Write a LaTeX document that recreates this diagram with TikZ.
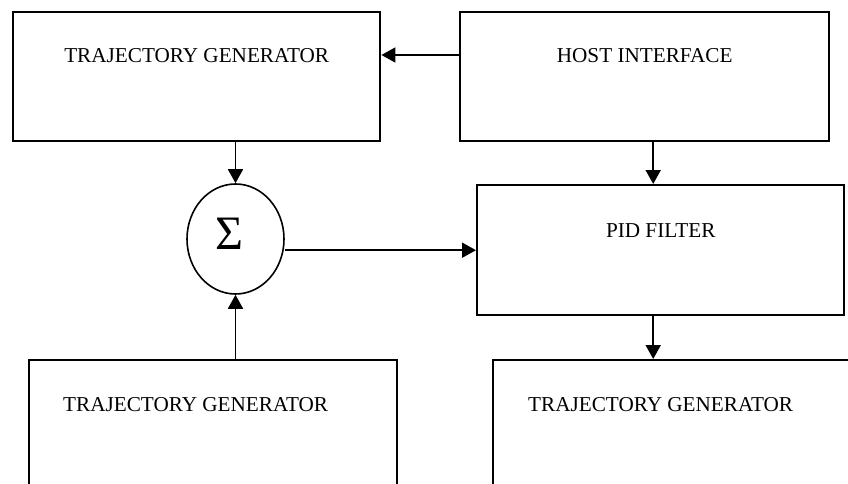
\documentclass[tikz,border=0pt]{standalone}
\usepackage{fontspec}
\setmainfont{Liberation Serif}
\usetikzlibrary{arrows.meta,shapes.geometric}

\tikzset{
  block/.style={draw, line width=2.4pt, inner sep=0pt, anchor=north west},
  blocktext/.style={font=\fontsize{21.2}{25}\selectfont, inner sep=0pt},
  sumnode/.style={draw, ellipse, line width=1.6pt, minimum width=97pt, minimum height=110pt, inner sep=0pt},
  link/.style={line width=1.8pt, -{Triangle[length=14pt,width=15pt]}}
}

\begin{document}
\begin{tikzpicture}[x=1pt,y=-1pt]
    \clip (0,0) rectangle (848,484);
    % blocks
    \node[block, minimum width=367pt, minimum height=129pt] (tg1) at (12,11) {};
    \node[block, minimum width=369pt, minimum height=129pt] (host) at (459,11) {};
    \node[block, minimum width=367pt, minimum height=130pt] (pid) at (476,184) {};
    \node[block, minimum width=368pt, minimum height=150pt] (tg2) at (28,359) {};
    \node[block, minimum width=380pt, minimum height=150pt] (tg3) at (492,359) {};
    \node[sumnode] (sum) at (235.5,239) {};
    % texts
    \node[blocktext, anchor=base] (tg1txt) at ([yshift=-52pt]tg1.north) {TRAJECTORY GENERATOR};
    \node[blocktext, anchor=base] (hosttxt) at ([yshift=-52pt]host.north) {HOST INTERFACE};
    \node[blocktext, anchor=base] (pidtxt) at ([yshift=-53pt]pid.north) {PID FILTER};
    \node[blocktext, anchor=base west] (tg2txt) at ([xshift=35pt,yshift=-52pt]tg2.north west) {TRAJECTORY GENERATOR};
    \node[blocktext, anchor=base west] (tg3txt) at ([xshift=36pt,yshift=-52pt]tg3.north west) {TRAJECTORY GENERATOR};
    \node[font=\fontsize{48}{50}\selectfont, inner sep=0pt] (sumsym) at ([xshift=-6pt,yshift=5.5pt]sum.center) {Σ};
    % connectors
    \draw[link] ([yshift=-44pt]host.north west) -- ([yshift=-44pt]tg1.north east);
    \draw[link] (sum.north |- tg1.south) -- (sum.north);
    \draw[link] (sum.south |- tg2.north) -- (sum.south);
    \draw[link] (pid.west -| sum.east) -- (pid.west);
    \draw[link] ([xshift=-7.5pt]pid.north |- host.south) -- ([xshift=-7.5pt]pid.north);
    \draw[link] ([xshift=-7.5pt]pid.south) -- ([xshift=-7.5pt]pid.south |- tg3.north);
\end{tikzpicture}
\end{document}
